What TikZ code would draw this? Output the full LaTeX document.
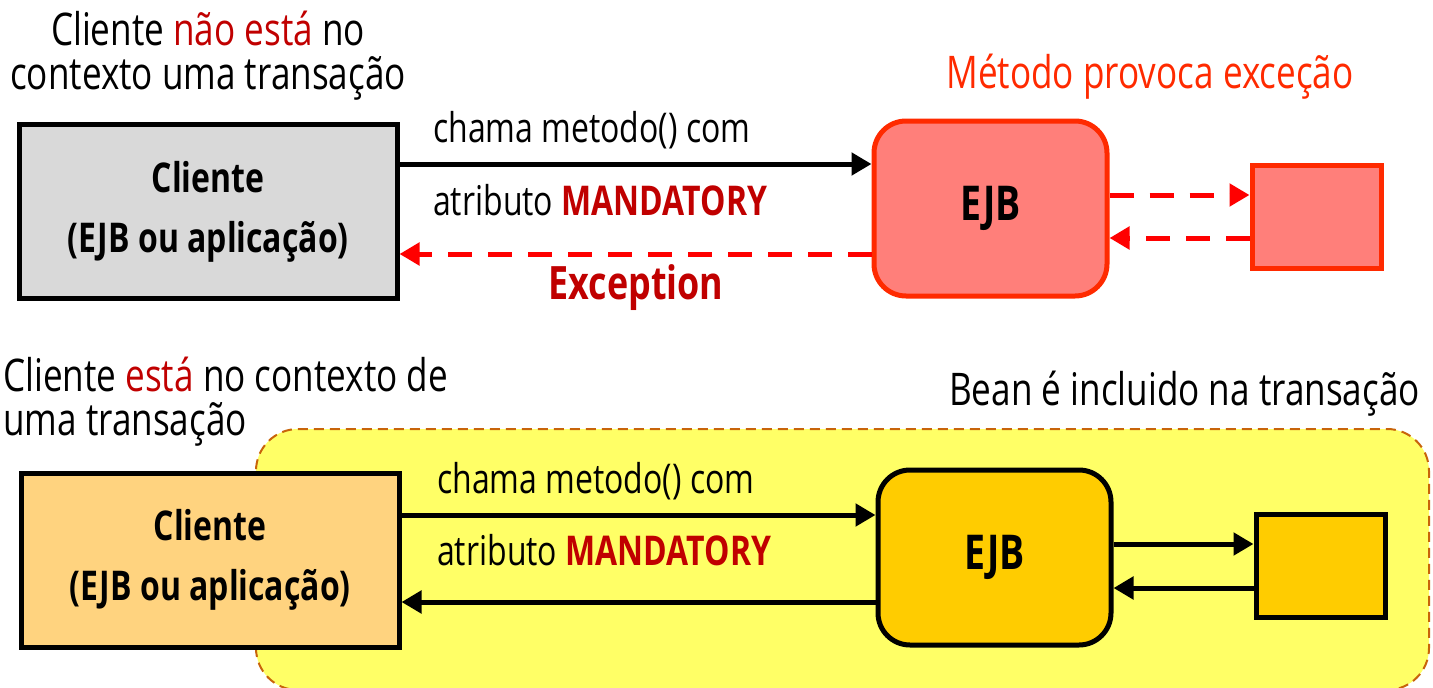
\documentclass[tikz,border=0pt]{standalone}
\usepackage{fontspec}
\setmainfont{Open Sans}[FakeStretch=0.78]
\usetikzlibrary{arrows.meta}
\definecolor{dred}{HTML}{C00000}
\definecolor{ored}{HTML}{FF2A00}
\definecolor{salmon}{HTML}{FF7F7A}
\definecolor{lgray}{HTML}{D9D9D9}
\definecolor{lorange}{HTML}{FFD37F}
\definecolor{gold}{HTML}{FFCC00}
\definecolor{lyellow}{HTML}{FFFF66}
\definecolor{brownorange}{HTML}{C8640A}
\tikzset{
  x=1pt,y=-1pt,
  boxc/.style={draw=black,line width=5pt,minimum width=378pt,minimum height=174pt,inner sep=0pt,align=center,font=\fontsize{41}{60}\selectfont\bfseries},
  ejbbox/.style={rounded corners=32pt,line width=5pt,minimum width=233pt,minimum height=175pt,inner sep=0pt,font=\fontsize{48}{50}\selectfont\bfseries},
  smallbox/.style={line width=5pt,minimum width=129pt,minimum height=103pt,inner sep=0pt},
  sarrow/.style={line width=5pt,-{Triangle[length=20pt,width=22pt]}},
  darrow/.style={red,line width=5pt,dash pattern=on 24pt off 16pt,-{Triangle[length=20pt,width=22pt]}},
  lbl/.style={font=\fontsize{41}{44}\selectfont,anchor=west,inner sep=0pt},
  hdr/.style={font=\fontsize{45}{44}\selectfont,inner sep=0pt},
}
\begin{document}
\begin{tikzpicture}
\useasboundingbox (0,0) rectangle (1433,688);
% ===== top =====
\node[hdr,align=center] (hdr1) at (208,56) {Cliente \textcolor{dred}{não está} no\\contexto uma transação};
\node[hdr,text=ored] (hdr2) at (1150,77) {Método provoca exceção};
\node[boxc,fill=lgray] (c1) at (208,211.5) {Cliente\\(EJB ou aplicação)};
\node[ejbbox,draw=ored,fill=salmon] (e1) at (990.5,208.5) {\raisebox{-6pt}{EJB}};
\node[smallbox,draw=ored,fill=salmon] (s1) at (1316.5,217) {};
\draw[sarrow] (c1.east |- 0,164) coordinate (a1) -- (e1.west |- a1);
\draw[darrow] (e1.west |- 0,254) coordinate (a2) -- (c1.east |- a2);
\draw[darrow] (e1.east |- 0,195) coordinate (a3) -- (s1.west |- a3);
\draw[darrow] (s1.west |- 0,238) coordinate (a4) -- (e1.east |- a4);
\node[lbl] (l1) at (433,130) {chama metodo() com};
\node[lbl] (l2) at (433,200) {atributo \textcolor{dred}{\bfseries MANDATORY}};
\node[font=\fontsize{46}{48}\selectfont\bfseries,text=dred,inner sep=0pt] (ex) at (636,288) {Exception};
% ===== bottom =====
\node[hdr,align=left,anchor=west] (hdr3) at (3,402) {Cliente \textcolor{dred}{está} no contexto de\\uma transação};
\node[hdr,anchor=east] (hdr4) at (1420,394) {Bean é incluido na transação};
\draw[brownorange,line width=2pt,dash pattern=on 10pt off 6pt,fill=lyellow,rounded corners=42pt] (256,429) rectangle (1429,690);
\node[boxc,fill=lorange] (c2) at (210,560) {Cliente\\(EJB ou aplicação)};
\node[ejbbox,draw=black,fill=gold] (e2) at (994.5,557.5) {\raisebox{-6pt}{EJB}};
\node[smallbox,draw=black,fill=gold] (s2) at (1320.5,565.5) {};
\draw[sarrow] (c2.east |- 0,515) coordinate (b1) -- (e2.west |- b1);
\draw[sarrow] (e2.west |- 0,602) coordinate (b2) -- (c2.east |- b2);
\draw[sarrow] (e2.east |- 0,544) coordinate (b3) -- (s2.west |- b3);
\draw[sarrow] (s2.west |- 0,588) coordinate (b4) -- (e2.east |- b4);
\node[lbl] (l3) at (437,481) {chama metodo() com};
\node[lbl] (l4) at (437,550) {atributo \textcolor{dred}{\bfseries MANDATORY}};
\end{tikzpicture}
\end{document}
